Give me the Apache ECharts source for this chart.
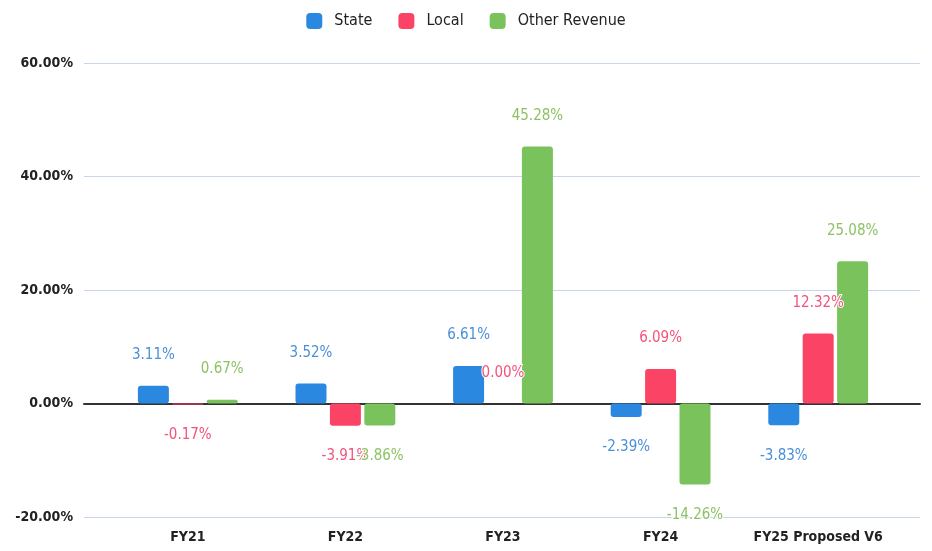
<!DOCTYPE html>
<html>
<head>
<meta charset="utf-8">
<script src="https://cdn.jsdelivr.net/npm/echarts@6/dist/echarts.min.js"></script>
<style>
  html, body { margin: 0; padding: 0; background: #fff; }
  #chart { width: 932px; height: 551px; }
</style>
</head>
<body>
<div id="chart"></div>
<script>
// categories and values (percent change)
var categories = ['FY21', 'FY22', 'FY23', 'FY24', 'FY25 Proposed V6'];
var stateValues = [3.11, 3.52, 6.61, -2.39, -3.83];
var localValues = [-0.17, -3.91, 0.00, 6.09, 12.32];
var otherValues = [0.67, -3.86, 45.28, -14.26, 25.08];
var yTicks = { min: -20, max: 60, step: 20 };

var colors = ['#2b88e0', '#fb4465', '#7ac35c'];
var labelColors = ['#4a8fd8', '#f3527a', '#8dc263'];
var font = '"DejaVu Sans Condensed", sans-serif';

function withLabels(values) {
  return values.map(function (v) {
    return {
      value: v,
      label: { position: v < 0 ? 'bottom' : 'top' }
    };
  });
}

function barSeries(name, values, idx) {
  return {
    name: name,
    type: 'bar',
    xAxisIndex: 1,
    yAxisIndex: 1,
    barWidth: 31,
    barGap: '11%',
    data: withLabels(values),
    itemStyle: { color: colors[idx], borderRadius: 3 },
    label: {
      show: true,
      distance: 23,
      color: labelColors[idx],
      fontSize: 15,
      fontFamily: font,
      textBorderColor: '#fff',
      textBorderWidth: 2,
      formatter: function (p) { return p.value.toFixed(2) + '%'; }
    }
  };
}

var chart = echarts.init(document.getElementById('chart'));
chart.setOption({
  animation: false,
  legend: {
    top: 8,
    left: 'center',
    itemWidth: 16,
    itemHeight: 16,
    itemGap: 26,
    icon: 'roundRect',
    textStyle: { color: '#222', fontSize: 16, fontWeight: 500, fontFamily: font, padding: [0, 0, 0, 7] },
    data: ['State', 'Local', 'Other Revenue']
  },
  grid: [
    { left: 84, right: 12, top: 63, bottom: 34 },
    { left: 109, right: 35, top: 63, bottom: 34 }
  ],
  xAxis: [
    {
      gridIndex: 0,
      type: 'category',
      data: categories,
      axisLine: { onZero: true, lineStyle: { color: '#333', width: 2 } },
      axisTick: { show: false },
      axisLabel: { show: false }
    },
    {
      gridIndex: 1,
      type: 'category',
      data: categories,
      axisLine: { show: false },
      axisTick: { show: false },
      axisLabel: {
        interval: 0,
        color: '#222',
        fontSize: 14,
        fontWeight: 'bold',
        fontFamily: font,
        margin: 13
      }
    }
  ],
  yAxis: [
    {
      gridIndex: 0,
      type: 'value',
      min: yTicks.min,
      max: yTicks.max,
      interval: yTicks.step,
      axisLine: { show: false },
      axisTick: { show: false },
      splitLine: { lineStyle: { color: '#c9d5ec', width: 1 } },
      axisLabel: {
        color: '#222',
        fontSize: 14,
        fontWeight: 'bold',
        fontFamily: font,
        margin: 11,
        formatter: function (v) { return v.toFixed(2) + '%'; }
      }
    },
    {
      gridIndex: 1,
      type: 'value',
      min: yTicks.min,
      max: yTicks.max,
      interval: yTicks.step,
      show: false,
      splitLine: { show: false }
    }
  ],
  series: [
    barSeries('State', stateValues, 0),
    barSeries('Local', localValues, 1),
    barSeries('Other Revenue', otherValues, 2)
  ]
});
</script>
</body>
</html>
